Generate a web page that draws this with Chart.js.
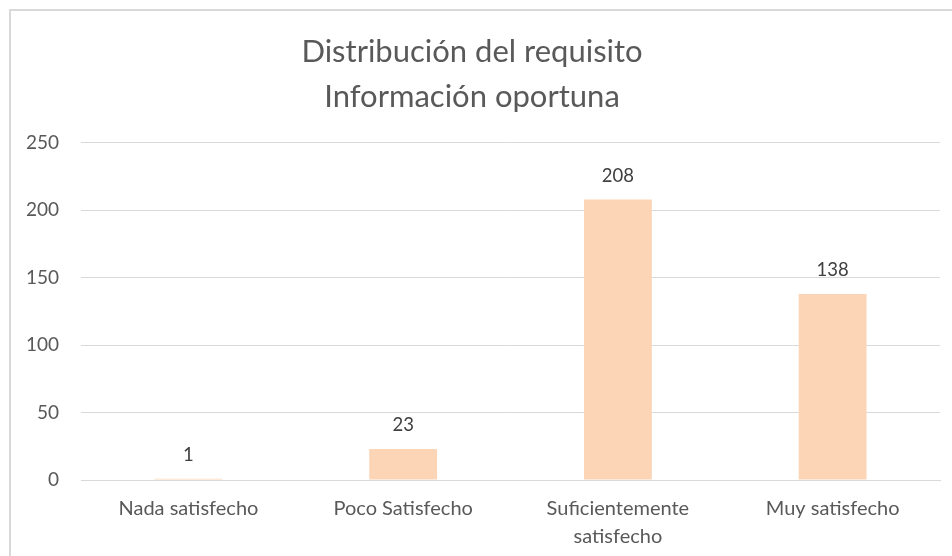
<!DOCTYPE html>
<html lang="es">
<head>
    <meta charset="UTF-8">
    <title>Distribución del requisito - Información oportuna</title>
    <script src="https://cdn.jsdelivr.net/npm/chart.js"></script>
    <style>
        body { margin: 0; background: #fff; overflow: hidden; }
        #frame {
            position: absolute; left: 9px; top: 9px;
            width: 1000px; height: 600px;
            border-left: 2px solid #d9d9d9; border-top: 2px solid #d9d9d9;
        }
        #wrap { position: absolute; left: 0; top: 0; width: 952px; height: 556px; }
    </style>
</head>
<body>
    <div id="frame"></div>
    <div id="wrap"><canvas id="chart"></canvas></div>
    <script>
        // Data
        const categories = ['Nada satisfecho', 'Poco Satisfecho', ['Suficientemente', 'satisfecho'], 'Muy satisfecho'];
        const counts = [1, 23, 208, 138];
        const yTicks = [0, 50, 100, 150, 200, 250];

        const fontFamily = 'Lato, "Open Sans", sans-serif';

        // Draw the value above each bar
        const valueLabels = {
            id: 'valueLabels',
            afterDatasetsDraw(chart) {
                const ctx = chart.ctx;
                const meta = chart.getDatasetMeta(0);
                ctx.save();
                ctx.font = '18.5px ' + fontFamily;
                ctx.fillStyle = '#404040';
                ctx.textAlign = 'center';
                ctx.textBaseline = 'middle';
                meta.data.forEach((bar, i) => {
                    ctx.fillText(String(counts[i]), bar.x, bar.y - 24);
                });
                ctx.restore();
            }
        };

        const ctx = document.getElementById('chart').getContext('2d');
        new Chart(ctx, {
            type: 'bar',
            data: {
                labels: categories,
                datasets: [{
                    data: counts,
                    backgroundColor: '#FBD5B5',
                    borderWidth: 0,
                    barPercentage: 0.316,
                    categoryPercentage: 1
                }]
            },
            options: {
                responsive: true,
                maintainAspectRatio: false,
                animation: false,
                layout: { padding: { top: 10, left: 4, right: 12, bottom: 6 } },
                plugins: {
                    legend: { display: false },
                    tooltip: { enabled: false },
                    title: {
                        display: true,
                        text: ['Distribución del requisito', 'Información oportuna'],
                        color: '#595959',
                        font: { family: fontFamily, size: 31, weight: 'normal', lineHeight: 1.45 },
                        padding: { top: 20, bottom: 23 }
                    }
                },
                scales: {
                    x: {
                        grid: { display: false, drawTicks: false },
                        border: { color: '#d9d9d9' },
                        ticks: {
                            color: '#595959',
                            padding: 15,
                            maxRotation: 0,
                            font: { family: fontFamily, size: 20, lineHeight: 1.4 }
                        },
                        afterFit(scale) { scale.height = 70; }
                    },
                    y: {
                        min: yTicks[0],
                        max: yTicks[yTicks.length - 1],
                        afterBuildTicks(axis) {
                            axis.ticks = yTicks.map(v => ({ value: v }));
                        },
                        grid: { color: '#d9d9d9', drawTicks: false },
                        border: { display: false },
                        ticks: {
                            color: '#595959',
                            padding: 22,
                            font: { family: fontFamily, size: 19 }
                        }
                    }
                }
            },
            plugins: [valueLabels]
        });
    </script>
</body>
</html>
